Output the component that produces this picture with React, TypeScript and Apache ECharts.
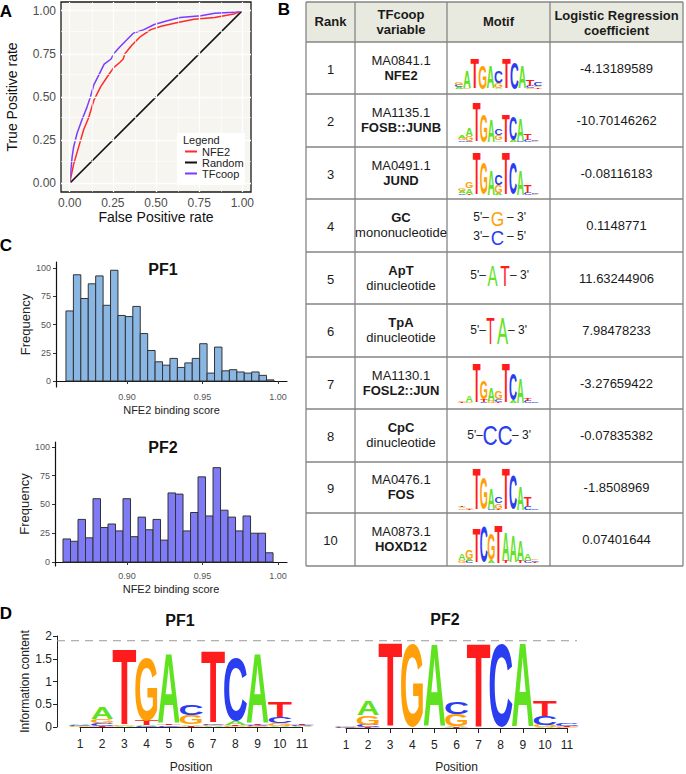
import React, { useEffect, useRef } from "react";
import * as echarts from "echarts";

const FAM = '"Liberation Sans", Arial, Helvetica, sans-serif';

// ---------------- Panel A : ROC ----------------
const rocTicks = [0, 0.25, 0.5, 0.75, 1];
const rocMinorTicks = [0.125, 0.375, 0.625, 0.875];
const nfe2Fpr = [0, 0.023, 0.052, 0.081, 0.11, 0.14, 0.18, 0.22, 0.255, 0.29, 0.31, 0.32, 0.36, 0.41, 0.47, 0.53, 0.62, 0.72, 0.84, 0.95, 1.0];
const nfe2Tpr = [0, 0.11, 0.21, 0.31, 0.38, 0.48, 0.56, 0.62, 0.67, 0.7, 0.72, 0.75, 0.8, 0.85, 0.89, 0.91, 0.93, 0.95, 0.96, 0.98, 1.0];
const tfcoopFpr = [0, 0.014, 0.023, 0.043, 0.072, 0.1, 0.12, 0.14, 0.17, 0.2, 0.24, 0.255, 0.29, 0.33, 0.37, 0.43, 0.49, 0.56, 0.64, 0.76, 0.84, 0.95, 1.0];
const tfcoopTpr = [0, 0.15, 0.21, 0.29, 0.37, 0.44, 0.5, 0.57, 0.63, 0.69, 0.72, 0.75, 0.79, 0.83, 0.87, 0.89, 0.92, 0.94, 0.96, 0.97, 0.985, 0.99, 1.0];
const randomFpr = [0, 1];
const randomTpr = [0, 1];

// ---------------- Panel C : histograms ----------------
const scoreTicks = [0.9, 0.95, 1.0];
const freqTicks = [0, 25, 50, 75, 100];
const pf1BinStart = 0.8596;
const pf1BinWidth = 0.00492;
const pf1Counts = [62, 94, 73, 86, 93, 67, 98, 58, 57, 66, 42, 27, 17, 14, 20, 12, 16, 20, 33, 7, 30, 9, 10, 8, 7, 8, 5, 1];
const pf2BinStart = 0.8576;
const pf2BinWidth = 0.00497;
const pf2Counts = [20, 18, 37, 21, 55, 30, 33, 27, 55, 22, 39, 28, 37, 19, 60, 59, 27, 43, 74, 40, 82, 45, 39, 27, 40, 25, 25, 8];

// ---------------- Panel D : sequence logos (bits, bottom -> top) ----------------
const logoThreshold = 1.9;
const pf1Logo = [
  [["G", 0.02], ["C", 0.02], ["A", 0.02]],
  [["T", 0.03], ["C", 0.05], ["G", 0.09], ["A", 0.27]],
  [["A", 0.02], ["G", 0.02], ["T", 1.7]],
  [["C", 0.02], ["A", 0.02], ["T", 0.1], ["G", 1.4]],
  [["C", 0.04], ["T", 0.03], ["A", 1.55]],
  [["T", 0.03], ["A", 0.03], ["G", 0.2], ["C", 0.23]],
  [["A", 0.02], ["G", 0.03], ["C", 0.03], ["T", 1.62]],
  [["G", 0.02], ["T", 0.02], ["A", 0.09], ["C", 1.4]],
  [["G", 0.02], ["C", 0.03], ["T", 0.03], ["A", 1.55]],
  [["A", 0.03], ["G", 0.06], ["C", 0.13], ["T", 0.36]],
  [["A", 0.02], ["C", 0.02], ["T", 0.02]],
];
const pf2Logo = [
  [["T", 0.01], ["C", 0.02], ["G", 0.03]],
  [["T", 0.02], ["C", 0.05], ["G", 0.21], ["A", 0.3]],
  [["G", 0.01], ["T", 1.86]],
  [["A", 0.01], ["G", 1.83]],
  [["C", 0.01], ["A", 1.83]],
  [["T", 0.02], ["A", 0.02], ["G", 0.26], ["C", 0.26]],
  [["T", 1.86]],
  [["A", 0.01], ["C", 1.83]],
  [["A", 1.86]],
  [["A", 0.03], ["G", 0.04], ["C", 0.19], ["T", 0.34]],
  [["G", 0.02], ["T", 0.03], ["C", 0.05]],
];

// ---------------- Panel B : table ----------------
const ranks = ["1", "2", "3", "4", "5", "6", "7", "8", "9", "10"];
const varLine1 = ["MA0841.1", "MA1135.1", "MA0491.1", "GC", "ApT", "TpA", "MA1130.1", "CpC", "MA0476.1", "MA0873.1"];
const varLine2 = ["NFE2", "FOSB::JUNB", "JUND", "mononucleotide", "dinucleotide", "dinucleotide", "FOSL2::JUN", "dinucleotide", "FOS", "HOXD12"];
const boldFirstLine = [false, false, false, true, true, true, false, true, false, false];
const coefficients = ["-4.13189589", "-10.70146262", "-0.08116183", "0.1148771", "11.63244906", "7.98478233", "-3.27659422", "-0.07835382", "-1.8508969", "0.07401644"];

const nfe2Motif = [
  [["A", 0.12], ["C", 0.12], ["G", 0.14]],
  [["G", 0.06], ["A", 1.1]],
  [["T", 1.9]],
  [["G", 1.54]],
  [["A", 1.43]],
  [["A", 0.06], ["G", 0.3], ["C", 0.72]],
  [["T", 1.9]],
  [["C", 1.65]],
  [["A", 1.43]],
  [["G", 0.05], ["C", 0.12], ["T", 0.45]],
  [["T", 0.1], ["G", 0.1], ["C", 0.26]],
];
const fosbJunbMotif = [
  [["C", 0.08], ["G", 0.1], ["A", 0.1]],
  [["C", 0.05], ["G", 0.22], ["A", 0.35]],
  [["T", 1.9]],
  [["G", 1.35]],
  [["A", 1.05]],
  [["A", 0.08], ["G", 0.25], ["C", 0.32]],
  [["T", 1.35]],
  [["A", 0.1], ["C", 1.1]],
  [["C", 0.05], ["A", 1.05]],
  [["C", 0.12], ["T", 0.3]],
  [["G", 0.04], ["C", 0.06]],
];
const jundMotif = [
  [["C", 0.08], ["A", 0.1], ["G", 0.1]],
  [["T", 0.05], ["A", 0.25], ["G", 0.3]],
  [["T", 1.9]],
  [["G", 1.44]],
  [["A", 1.14]],
  [["A", 0.1], ["G", 0.35], ["C", 0.45]],
  [["T", 1.9]],
  [["C", 1.44]],
  [["A", 1.14]],
  [["C", 0.1], ["T", 0.35]],
  [["G", 0.04], ["C", 0.08]],
];
const fosl2JunMotif = [
  [["T", 0.05], ["G", 0.06]],
  [["G", 0.05], ["A", 0.3]],
  [["T", 1.9]],
  [["C", 0.05], ["T", 0.1], ["G", 0.85]],
  [["G", 0.1], ["A", 0.6]],
  [["T", 0.05], ["C", 0.15], ["G", 0.35]],
  [["T", 1.9]],
  [["A", 0.1], ["C", 1.23]],
  [["A", 1.17]],
  [["C", 0.1], ["T", 0.15]],
  [["C", 0.05]],
];
const fosMotif = [
  [["G", 0.08], ["A", 0.07], ["T", 0.08]],
  [["T", 0.05], ["G", 0.05]],
  [["T", 1.89]],
  [["G", 1.47]],
  [["C", 0.05], ["A", 0.95]],
  [["T", 0.05], ["G", 0.25], ["C", 0.3]],
  [["T", 1.89]],
  [["C", 1.62]],
  [["A", 1.08]],
  [["C", 0.15], ["T", 0.4]],
  [["C", 0.08]],
];
const hoxd12Motif = [
  [["G", 0.15], ["A", 0.3]],
  [["C", 0.1], ["A", 0.1], ["G", 0.45]],
  [["T", 1.8]],
  [["C", 1.86]],
  [["A", 0.1], ["G", 1.33]],
  [["T", 1.95]],
  [["T", 0.1], ["A", 1.4]],
  [["A", 1.34]],
  [["T", 0.1], ["A", 1.07]],
  [["C", 0.1], ["G", 0.05], ["A", 0.33]],
  [["T", 0.05], ["C", 0.08], ["G", 0.07]],
];
const gcMotif = ["G", "C"];
const aptMotif = ["A", "T"];
const tpaMotif = ["T", "A"];
const cpcMotif = ["C", "C"];

// ---------------- helpers ----------------
const LETTERS = ["A", "C", "G", "T"];
const LETTER_COLOR: Record<string, string> = { A: "#5fe21f", C: "#2b3df0", G: "#ffa00a", T: "#ff1c1c" };
const INK_BOLD: Record<string, number> = { A: 0.71, C: 0.65, G: 0.7, T: 0.57 };
const INK_REG: Record<string, number> = { A: 0.66, C: 0.62, G: 0.66, T: 0.58 };
const CAP = 0.716;
const F = 100;

function logoData(logo: any[]) {
  const out: number[][] = [];
  logo.forEach((stack: any[], i: number) => {
    let y = 0;
    stack.forEach(([L, h]: [string, number]) => {
      out.push([i + 1, y, y + h, LETTERS.indexOf(L)]);
      y += h;
    });
  });
  return out;
}

function letterRender(widthFrac: number) {
  return (params: any, api: any) => {
    const pos = api.value(0);
    const y0 = api.value(1);
    const y1 = api.value(2);
    const L = LETTERS[api.value(3)];
    const pb = api.coord([pos, y0]);
    const pt = api.coord([pos, y1]);
    const colW = api.size([1, 0])[0];
    const h = pb[1] - pt[1];
    if (h < 0.4) return null;
    return {
      type: "text",
      x: pb[0],
      y: (pb[1] + pt[1]) / 2,
      scaleX: (colW * widthFrac) / (INK_BOLD[L] * F),
      scaleY: h / (CAP * F),
      style: {
        text: L,
        font: `bold ${F}px ${FAM}`,
        fill: LETTER_COLOR[L],
        textAlign: "center",
        align: "center",
        textVerticalAlign: "middle",
        verticalAlign: "middle",
      },
    };
  };
}

function histRender(color: string) {
  return (params: any, api: any) => {
    const p0 = api.coord([api.value(0), 0]);
    const p1 = api.coord([api.value(1), api.value(2)]);
    return {
      type: "rect",
      shape: { x: p0[0], y: p1[1], width: p1[0] - p0[0], height: p0[1] - p1[1] },
      style: { fill: color, stroke: "#333333", lineWidth: 1 },
    };
  };
}

function histData(start: number, width: number, counts: number[]) {
  return counts.map((c, i) => [start + i * width, start + (i + 1) * width, c]);
}

function txt(text: string, x: number, y: number, size: number, bold = false, align = "center", color = "#1a1a1a") {
  return {
    type: "text",
    x,
    y,
    z: 50,
    style: {
      text,
      font: `${bold ? "bold " : ""}${size}px ${FAM}`,
      fill: color,
      textAlign: align,
      align,
      textVerticalAlign: "middle",
      verticalAlign: "middle",
    },
  };
}

function bigLetter(L: string, cx: number, cy: number, w: number, h: number) {
  return {
    type: "text",
    x: cx,
    y: cy,
    z: 50,
    scaleX: w / (INK_REG[L] * F),
    scaleY: h / (CAP * F),
    style: {
      text: L,
      font: `${F}px ${FAM}`,
      fill: LETTER_COLOR[L],
      textAlign: "center",
      align: "center",
      textVerticalAlign: "middle",
      verticalAlign: "middle",
    },
  };
}

// table layout
const colEdges = [306, 355, 447, 550, 683];
const rowEdges = [2, 42, 94, 147, 199, 252, 304, 357, 409, 462, 513, 566];

// table logos: [rowIndex, motif, left, width, baseline, pxPerBit]
const tableLogos: any[] = [
  [0, nfe2Motif, 459, 79, 89, 15.8],
  [1, fosbJunbMotif, 462, 73, 142, 21],
  [2, jundMotif, 462, 73, 195, 22],
  [6, fosl2JunMotif, 462, 73, 403, 21],
  [8, fosMotif, 462, 73, 510, 21.6],
  [9, hoxd12Motif, 462, 73, 563, 19.5],
];

function buildOption() {
  const axisFontA = { fontFamily: FAM, fontSize: 12, color: "#4d4d4d" };
  const grids: any[] = [
    { left: 61, top: 2, width: 190, height: 190, show: true, backgroundColor: "#f7f5ef", borderColor: "#1a1a1a", borderWidth: 1.3 },
    { left: 56, top: 262, width: 231, height: 125 },
    { left: 55, top: 442, width: 232, height: 124 },
    { left: 80, top: 636, width: 222, height: 94.7 },
    { left: 346, top: 636, width: 221, height: 94.7 },
    { left: 57, top: 636, width: 520, height: 94.7 },
  ];
  const xAxes: any[] = [
    {
      gridIndex: 0, type: "value", min: -0.05, max: 1.05,
      axisLine: { show: false }, splitLine: { show: false },
      axisTick: { show: true, length: 4, customValues: rocTicks, lineStyle: { color: "#333" } },
      axisLabel: { customValues: rocTicks, formatter: (v: number) => v.toFixed(2), margin: 5, ...axisFontA },
      name: "False Positive rate", nameLocation: "middle", nameGap: 15,
      nameTextStyle: { fontFamily: FAM, fontSize: 14, color: "#111" },
    },
    {
      gridIndex: 1, type: "value", min: 0.853, max: 1.006,
      axisLine: { show: true, lineStyle: { color: "#111", width: 1.2 } }, splitLine: { show: false },
      axisTick: { show: true, length: 3, customValues: scoreTicks, lineStyle: { color: "#333" } },
      axisLabel: { customValues: scoreTicks, formatter: (v: number) => v.toFixed(2), margin: 5, fontFamily: FAM, fontSize: 9, color: "#555" },
      name: "NFE2 binding score", nameLocation: "middle", nameGap: 17,
      nameTextStyle: { fontFamily: FAM, fontSize: 11, color: "#222" },
    },
    {
      gridIndex: 2, type: "value", min: 0.8523, max: 1.006,
      axisLine: { show: true, lineStyle: { color: "#111", width: 1.2 } }, splitLine: { show: false },
      axisTick: { show: true, length: 3, customValues: scoreTicks, lineStyle: { color: "#333" } },
      axisLabel: { customValues: scoreTicks, formatter: (v: number) => v.toFixed(2), margin: 5, fontFamily: FAM, fontSize: 9, color: "#555" },
      name: "NFE2 binding score", nameLocation: "middle", nameGap: 17,
      nameTextStyle: { fontFamily: FAM, fontSize: 11, color: "#222" },
    },
    {
      gridIndex: 3, type: "value", min: 1, max: 11, interval: 1, offset: 6,
      axisLine: { show: true, lineStyle: { color: "#222", width: 1 } }, splitLine: { show: false },
      axisTick: { show: true, length: 5, lineStyle: { color: "#222" } },
      axisLabel: { margin: 5, fontFamily: FAM, fontSize: 12, color: "#222" },
      name: "Position", nameLocation: "middle", nameGap: 28,
      nameTextStyle: { fontFamily: FAM, fontSize: 12, color: "#222" },
    },
    {
      gridIndex: 4, type: "value", min: 1, max: 11, interval: 1, offset: 6,
      axisLine: { show: true, lineStyle: { color: "#222", width: 1 } }, splitLine: { show: false },
      axisTick: { show: true, length: 5, lineStyle: { color: "#222" } },
      axisLabel: { margin: 5, fontFamily: FAM, fontSize: 12, color: "#222" },
      name: "Position", nameLocation: "middle", nameGap: 27,
      nameTextStyle: { fontFamily: FAM, fontSize: 12, color: "#222" },
    },
    { gridIndex: 5, type: "value", min: 0, max: 1, show: false },
  ];
  const yAxes: any[] = [
    {
      gridIndex: 0, type: "value", min: -0.05, max: 1.05,
      axisLine: { show: false }, splitLine: { show: false },
      axisTick: { show: true, length: 4, customValues: rocTicks, lineStyle: { color: "#333" } },
      axisLabel: { customValues: rocTicks, formatter: (v: number) => v.toFixed(2), margin: 5, ...axisFontA },
      name: "True Positive rate", nameLocation: "middle", nameGap: 42,
      nameTextStyle: { fontFamily: FAM, fontSize: 14, color: "#111" },
    },
    {
      gridIndex: 1, type: "value", min: -5.3, max: 105.3,
      axisLine: { show: true, lineStyle: { color: "#111", width: 1.2 } }, splitLine: { show: false },
      axisTick: { show: true, length: 3, customValues: freqTicks, lineStyle: { color: "#333" } },
      axisLabel: { customValues: freqTicks, margin: 5, fontFamily: FAM, fontSize: 9, color: "#555" },
      name: "Frequency", nameLocation: "middle", nameGap: 24,
      nameTextStyle: { fontFamily: FAM, fontSize: 13, color: "#222" },
    },
    {
      gridIndex: 2, type: "value", min: -3.5, max: 104.3,
      axisLine: { show: true, lineStyle: { color: "#111", width: 1.2 } }, splitLine: { show: false },
      axisTick: { show: true, length: 3, customValues: freqTicks, lineStyle: { color: "#333" } },
      axisLabel: { customValues: freqTicks, margin: 5, fontFamily: FAM, fontSize: 9, color: "#555" },
      name: "Frequency", nameLocation: "middle", nameGap: 23,
      nameTextStyle: { fontFamily: FAM, fontSize: 13, color: "#222" },
    },
    {
      gridIndex: 3, type: "value", min: 0, max: 2, interval: 0.5, offset: 23,
      axisLine: { show: true, lineStyle: { color: "#222", width: 1 } }, splitLine: { show: false },
      axisTick: { show: true, length: 4, lineStyle: { color: "#222" } },
      axisLabel: { margin: 5, fontFamily: FAM, fontSize: 12, color: "#222" },
      name: "Information content", nameLocation: "middle", nameGap: 14,
      nameTextStyle: { fontFamily: FAM, fontSize: 12, color: "#222" },
    },
    { gridIndex: 4, type: "value", min: 0, max: 2, show: false },
    { gridIndex: 5, type: "value", min: 0, max: 2, show: false },
  ];

  const series: any[] = [];
  // ROC grid lines
  const gl = (v: number, major: boolean, axis: string) => ({ [axis]: v, lineStyle: { color: "#ffffff", width: major ? 1.3 : 0.6, type: "solid" } });
  series.push({
    type: "line", name: "grid", xAxisIndex: 0, yAxisIndex: 0, data: [[0, 0]], z: 1, silent: true,
    showSymbol: false, lineStyle: { opacity: 0 },
    markLine: {
      silent: true, symbol: ["none", "none"], label: { show: false }, animation: false,
      data: [
        ...rocTicks.map((v) => gl(v, true, "xAxis")),
        ...rocMinorTicks.map((v) => gl(v, false, "xAxis")),
        ...rocTicks.map((v) => gl(v, true, "yAxis")),
        ...rocMinorTicks.map((v) => gl(v, false, "yAxis")),
      ],
    },
  });
  series.push({
    type: "line", name: "Random", xAxisIndex: 0, yAxisIndex: 0, z: 3, showSymbol: false, color: "#111111",
    lineStyle: { width: 1.5, color: "#111111" }, data: randomFpr.map((x, i) => [x, randomTpr[i]]),
  });
  series.push({
    type: "line", name: "NFE2", xAxisIndex: 0, yAxisIndex: 0, z: 3, showSymbol: false, color: "#ff2a2a",
    lineStyle: { width: 1.5, color: "#ff2a2a" }, data: nfe2Fpr.map((x, i) => [x, nfe2Tpr[i]]),
  });
  series.push({
    type: "line", name: "TFcoop", xAxisIndex: 0, yAxisIndex: 0, z: 4, showSymbol: false, color: "#7a3cff",
    lineStyle: { width: 1.5, color: "#7a3cff" }, data: tfcoopFpr.map((x, i) => [x, tfcoopTpr[i]]),
  });
  // histograms
  series.push({
    type: "custom", name: "PF1", xAxisIndex: 1, yAxisIndex: 1, renderItem: histRender("#8ab6e4"),
    encode: { x: [0, 1], y: 2 }, data: histData(pf1BinStart, pf1BinWidth, pf1Counts),
  });
  series.push({
    type: "custom", name: "PF2", xAxisIndex: 2, yAxisIndex: 2, renderItem: histRender("#7f7bf6"),
    encode: { x: [0, 1], y: 2 }, data: histData(pf2BinStart, pf2BinWidth, pf2Counts),
  });
  // D logos
  series.push({
    type: "custom", name: "PF1 logo", xAxisIndex: 3, yAxisIndex: 3, renderItem: letterRender(1.02),
    encode: { x: 0, y: [1, 2] }, data: logoData(pf1Logo),
  });
  series.push({
    type: "custom", name: "PF2 logo", xAxisIndex: 4, yAxisIndex: 4, renderItem: letterRender(1.02),
    encode: { x: 0, y: [1, 2] }, data: logoData(pf2Logo),
  });
  series.push({
    type: "line", name: "threshold", xAxisIndex: 5, yAxisIndex: 5, showSymbol: false, silent: true, z: 1,
    lineStyle: { color: "#9a9a9a", width: 1, type: [8, 6] }, data: [[0, logoThreshold], [1, logoThreshold]],
  });

  // table logos
  tableLogos.forEach(([row, motif, left, width, baseline, ppb], k) => {
    grids.push({ left, top: baseline - 2 * ppb, width, height: 2 * ppb });
    const gi = grids.length - 1;
    xAxes.push({ gridIndex: gi, type: "value", min: 1, max: 11, show: false });
    yAxes.push({ gridIndex: gi, type: "value", min: 0, max: 2, show: false });
    series.push({
      type: "custom", name: "motif" + k, xAxisIndex: gi, yAxisIndex: gi, renderItem: letterRender(1.0),
      encode: { x: 0, y: [1, 2] }, data: logoData(motif),
    });
  });

  // graphic elements
  const g: any[] = [];
  // panel labels
  g.push(txt("A", 6, 11, 17, true, "center", "#000"));
  g.push(txt("B", 284, 9, 17, true, "center", "#000"));
  g.push(txt("C", 6, 245, 17, true, "center", "#000"));
  g.push(txt("D", 6, 613, 17, true, "center", "#000"));
  // ROC legend box
  g.push({ type: "rect", z: 100, shape: { x: 177, y: 133, width: 68, height: 52 }, style: { fill: "#ffffff" } });
  g.push({ ...txt("Legend", 183, 140, 11, false, "left", "#222"), z: 101 });
  // C titles
  g.push(txt("PF1", 163, 269, 16, true, "center", "#111"));
  g.push(txt("PF2", 163, 447, 16, true, "center", "#111"));
  // D titles
  g.push(txt("PF1", 180, 620, 16, true, "center", "#111"));
  g.push(txt("PF2", 445, 619, 16, true, "center", "#111"));

  // table
  const tl = colEdges[0];
  const tr = colEdges[colEdges.length - 1];
  const tt = rowEdges[0];
  const tb = rowEdges[rowEdges.length - 1];
  g.push({ type: "rect", z: 10, shape: { x: tl, y: tt, width: tr - tl, height: rowEdges[1] - tt }, style: { fill: "#e9eadf" } });
  rowEdges.forEach((y) =>
    g.push({ type: "line", z: 20, shape: { x1: tl, y1: y, x2: tr, y2: y }, style: { stroke: "#858585", lineWidth: 1.3 } })
  );
  colEdges.forEach((x) =>
    g.push({ type: "line", z: 20, shape: { x1: x, y1: tt, x2: x, y2: tb }, style: { stroke: "#858585", lineWidth: 1.3 } })
  );
  const cx = (i: number) => (colEdges[i] + colEdges[i + 1]) / 2;
  g.push(txt("Rank", cx(0), 21, 13, true));
  g.push(txt("TFcoop", cx(1), 14, 13, true));
  g.push(txt("variable", cx(1), 29, 13, true));
  g.push(txt("Motif", cx(2), 21, 13, true));
  g.push(txt("Logistic Regression", cx(3), 15, 13, true));
  g.push(txt("coefficient", cx(3), 30, 13, true));
  ranks.forEach((r, i) => {
    const cy = (rowEdges[i + 1] + rowEdges[i + 2]) / 2;
    g.push(txt(r, cx(0), cy + 1, 13));
    g.push(txt(varLine1[i], cx(1), cy - 8, 13, boldFirstLine[i]));
    g.push(txt(varLine2[i], cx(1), cy + 7, 13, !boldFirstLine[i]));
    g.push(txt(coefficients[i], cx(3), cy, 13));
  });
  // text motifs
  g.push(txt("5'\u2013", 489, 217, 12, false, "right"));
  g.push(bigLetter(gcMotif[0], 497.5, 219, 11.5, 14));
  g.push(txt("\u2013 3'", 507, 217, 12, false, "left"));
  g.push(txt("3'\u2013", 489, 236, 12, false, "right"));
  g.push(bigLetter(gcMotif[1], 497.5, 237.5, 11.5, 15));
  g.push(txt("\u2013 5'", 507, 236, 12, false, "left"));

  g.push(txt("5'\u2013", 486, 275, 12, false, "right"));
  g.push(bigLetter(aptMotif[0], 492.5, 275.5, 10, 21));
  g.push(bigLetter(aptMotif[1], 505, 275.5, 9, 21));
  g.push(txt("\u2013 3'", 510, 275, 12, false, "left"));

  g.push(txt("5'\u2013", 486, 330, 12, false, "right"));
  g.push(bigLetter(tpaMotif[0], 490.5, 331, 8, 26));
  g.push(bigLetter(tpaMotif[1], 502.5, 331, 11, 26));
  g.push(txt("\u2013 3'", 508, 330, 12, false, "left"));

  g.push(txt("5'\u2013", 483, 435, 12, false, "right"));
  g.push(bigLetter(cpcMotif[0], 490, 435, 13, 20));
  g.push(bigLetter(cpcMotif[1], 505, 435, 13, 20));
  g.push(txt("\u2013 3'", 512, 435, 12, false, "left"));

  return {
    animation: false,
    backgroundColor: "#ffffff",
    textStyle: { fontFamily: FAM },
    grid: grids,
    xAxis: xAxes,
    yAxis: yAxes,
    legend: {
      data: ["NFE2", "Random", "TFcoop"],
      left: 185, top: 146, orient: "vertical", z: 110,
      itemWidth: 12, itemHeight: 2, itemGap: 0, icon: "rect", padding: 0,
      textStyle: { fontFamily: FAM, fontSize: 11, lineHeight: 10, color: "#222" },
      selectedMode: false,
    },
    series,
    graphic: { elements: g },
  };
}

export default function App() {
  const ref = useRef<HTMLDivElement>(null);
  useEffect(() => {
    if (!ref.current) return;
    const chart = echarts.init(ref.current, null, { renderer: "svg" });
    chart.setOption(buildOption() as any);
    return () => chart.dispose();
  }, []);
  return (
    <div
      ref={ref}
      style={{ position: "absolute", left: 0, top: 0, width: 686, height: 774, background: "#fff" }}
    />
  );
}
